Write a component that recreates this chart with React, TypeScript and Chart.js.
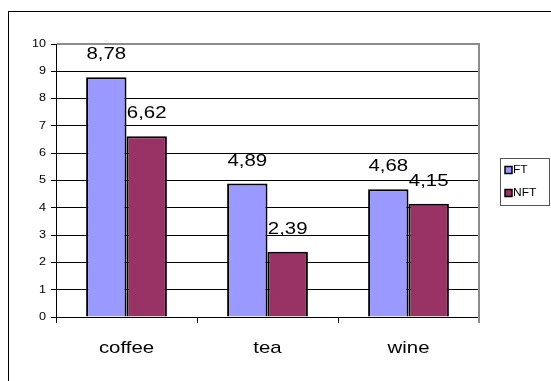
import { useEffect, useRef } from 'react';
import { Chart, registerables } from 'chart.js';

Chart.register(...registerables);

const categories = ['coffee', 'tea', 'wine'];
const seriesNames = ['FT', 'NFT'];
const ftValues = [8.78, 4.89, 4.68];
const nftValues = [6.62, 2.39, 4.15];
const seriesColors = ['#9999FF', '#993366'];
const yMin = 0;
const yMax = 10;
const yStep = 1;

const FONT = '"Liberation Sans", Arial, sans-serif';
const STRETCH = 1.2;

// horizontally widen text glyphs around their anchor point (the reference text is wide)
function patchText(ctx: any, sx: number) {
  if (ctx.__origFillText) return;
  const orig = ctx.fillText.bind(ctx);
  ctx.__origFillText = orig;
  ctx.fillText = (text: string, x: number, y: number, maxWidth?: number) => {
    ctx.save();
    ctx.translate(x, y);
    ctx.scale(sx, 1);
    if (maxWidth !== undefined) orig(text, 0, 0, maxWidth / sx);
    else orig(text, 0, 0);
    ctx.restore();
  };
}
function unpatchText(ctx: any) {
  if (ctx.__origFillText) {
    ctx.fillText = ctx.__origFillText;
    delete ctx.__origFillText;
  }
}

const decorPlugin = {
  id: 'decor',
  beforeDraw(chart: any) {
    const ctx = chart.ctx;
    ctx.save();
    ctx.strokeStyle = '#000';
    ctx.lineWidth = 1;
    ctx.strokeRect(8.5, 11.5, 800, 600);
    ctx.restore();
    patchText(ctx, STRETCH);
  },
  afterDatasetsDraw(chart: any) {
    const ctx = chart.ctx;
    ctx.save();
    ctx.font = `17px ${FONT}`;
    ctx.fillStyle = '#000';
    ctx.textAlign = 'center';
    ctx.textBaseline = 'alphabetic';
    chart.data.datasets.forEach((ds: any, i: number) => {
      const meta = chart.getDatasetMeta(i);
      meta.data.forEach((bar: any, j: number) => {
        const v = ds.data[j] as number;
        ctx.fillText(v.toFixed(2).replace('.', ','), bar.x, bar.y - 18);
      });
    });
    ctx.restore();
  },
  afterDraw(chart: any) {
    const ctx = chart.ctx;
    const { left, right, top, bottom } = chart.chartArea;
    ctx.save();
    ctx.strokeStyle = '#8c8c8c';
    ctx.lineWidth = 2;
    ctx.beginPath();
    ctx.moveTo(left + 1, top);
    ctx.lineTo(right, top);
    ctx.lineTo(right, bottom + 6);
    ctx.stroke();

    // legend
    const lx = 500.5;
    const ly = 158.5;
    ctx.lineWidth = 1;
    ctx.strokeStyle = '#555';
    ctx.strokeRect(lx, ly, 49, 47);
    ctx.font = `10px ${FONT}`;
    ctx.textAlign = 'left';
    ctx.textBaseline = 'middle';
    chart.data.datasets.forEach((ds: any, i: number) => {
      const cy = 170 + i * 23;
      ctx.fillStyle = ds.backgroundColor;
      ctx.fillRect(505, cy - 3.5, 7, 7);
      ctx.strokeStyle = '#000';
      ctx.lineWidth = 1.5;
      ctx.strokeRect(505, cy - 3.5, 7, 7);
      ctx.fillStyle = '#000';
      ctx.fillText(ds.label, 513, cy);
    });
    ctx.restore();
    unpatchText(ctx);
  },
};

export default function App() {
  const ref = useRef<HTMLCanvasElement>(null);

  useEffect(() => {
    document.body.style.margin = '0';
    document.body.style.overflow = 'hidden';
    const chart = new Chart(ref.current as HTMLCanvasElement, {
      type: 'bar',
      data: {
        labels: categories,
        datasets: [
          {
            label: seriesNames[0],
            data: ftValues,
            backgroundColor: seriesColors[0],
            borderColor: '#000',
            borderWidth: 2,
          },
          {
            label: seriesNames[1],
            data: nftValues,
            backgroundColor: seriesColors[1],
            borderColor: '#000',
            borderWidth: 2,
          },
        ],
      },
      options: {
        responsive: false,
        animation: false,
        devicePixelRatio: 1,
        layout: { padding: { top: 44, right: 72, left: 0, bottom: 0 } },
        datasets: { bar: { categoryPercentage: 0.573, barPercentage: 1 } },
        plugins: {
          legend: { display: false },
          tooltip: { enabled: false },
        },
        scales: {
          x: {
            afterFit: (s: any) => {
              s.height = 64;
            },
            border: { display: true, color: '#000', width: 1 },
            grid: {
              display: true,
              drawOnChartArea: false,
              drawTicks: true,
              tickLength: 6,
              color: '#000',
              offset: true,
            },
            ticks: {
              color: '#000',
              font: { family: FONT, size: 17 },
              padding: 15,
            },
          },
          y: {
            min: yMin,
            max: yMax,
            afterFit: (s: any) => {
              s.width = 56;
            },
            border: { display: true, color: '#000', width: 1 },
            grid: {
              color: '#000',
              drawTicks: true,
              tickLength: 5,
            },
            ticks: {
              stepSize: yStep,
              color: '#000',
              font: { family: FONT, size: 10.5 },
              padding: 5,
            },
          },
        },
      },
      plugins: [decorPlugin],
    });
    return () => chart.destroy();
  }, []);

  return (
    <div style={{ position: 'fixed', left: 0, top: 0, width: 551, height: 381, background: '#fff' }}>
      <canvas ref={ref} width={551} height={381} />
    </div>
  );
}
